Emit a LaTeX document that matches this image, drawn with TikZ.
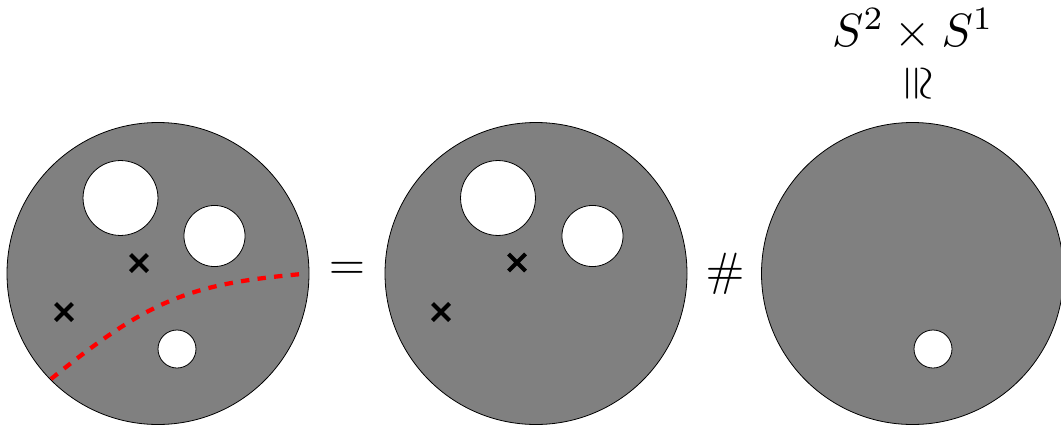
\documentclass[tikz,border=0pt]{standalone}
\begin{document}
\begin{tikzpicture}[x=0.75pt,y=-0.75pt,
  disk/.style={draw=black, line width=0.6pt, fill=gray},
  hole/.style={draw=black, line width=0.6pt, fill=white},
  cut/.style={draw=red, line width=3.2pt, dash pattern=on 6.3pt off 6.2pt},
  bigtext/.style={scale=3.5, inner sep=0pt},
  xmk/.pic={\draw[line width=3pt] (-8.5,-8.5) -- (8.5,8.5) (-8.5,8.5) -- (8.5,-8.5);}]
\useasboundingbox (0,0) rectangle (1061,425);
% left disk
\coordinate (c1) at (158,273.5);
\draw[disk] (c1) circle[radius=113.25pt];
\draw[hole] (120.5,198) circle[radius=28.1pt];
\draw[hole] (214.5,236) circle[radius=22.9pt];
\draw[hole] (177,349) circle[radius=14.25pt];
\pic at (139,263) {xmk};
\pic at (64,312) {xmk};
\coordinate (cutA) at (51,379);
\coordinate (cutB) at (302,274);
\draw[cut] (cutA) .. controls (150,299) and (190,284) .. (cutB);
% middle disk
\coordinate (c2) at (536,273.5);
\draw[disk] (c2) circle[radius=113.25pt];
\draw[hole] (498,198) circle[radius=28.1pt];
\draw[hole] (592.5,236) circle[radius=22.9pt];
\pic at (517,262.5) {xmk};
\pic at (441,312) {xmk};
% right disk
\coordinate (c3) at (912.5,273.5);
\draw[disk] (c3) circle[radius=113.25pt];
\draw[hole] (933,349) circle[radius=14.25pt];
% symbols
\node[bigtext] (eq) at (347,271) {$=$};
\node[bigtext] (hash) at (725,274) {$\#$};
\node[bigtext, anchor=base] (s2s1) at (913,46) {$S^2\times S^1$};
\node[bigtext, rotate=-90] (iso) at (916,84) {$\cong$};
\end{tikzpicture}
\end{document}
